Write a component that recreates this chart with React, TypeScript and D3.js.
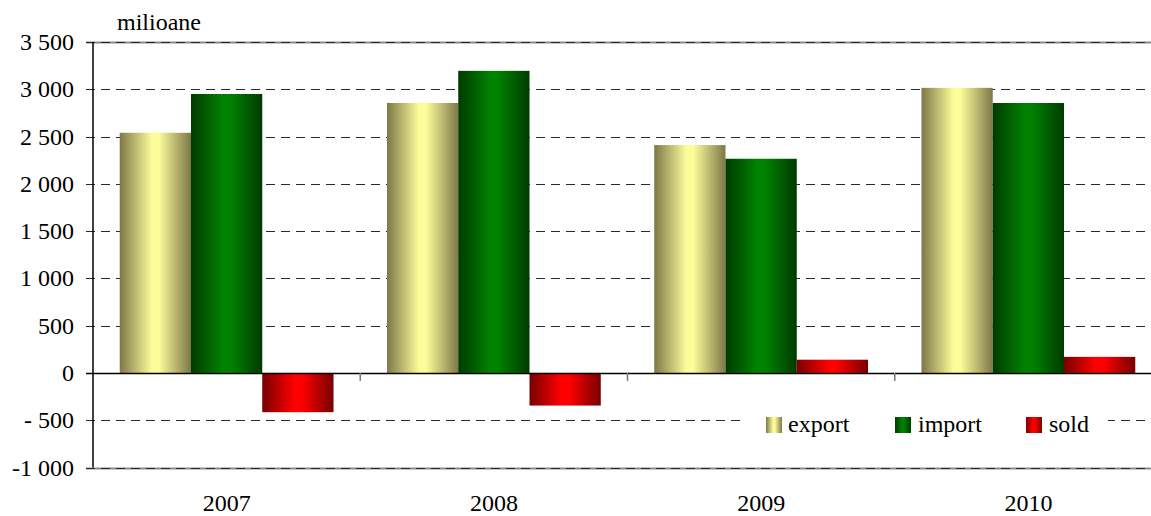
import React from "react";
import * as d3 from "d3";

const categories = ["2007", "2008", "2009", "2010"];
const exportValues = [2540, 2855, 2410, 3015];
const importValues = [2950, 3195, 2265, 2855];
const soldValues = [-415, -345, 140, 170];
const yTicks = [-1000, -500, 0, 500, 1000, 1500, 2000, 2500, 3000, 3500];
const yTickLabels = ["-1 000", "- 500", "0", "500", "1 000", "1 500", "2 000", "2 500", "3 000", "3 500"];
const seriesNames = ["export", "import", "sold"];

const W = 1151;
const H = 516;
const left = 93;
const right = 1162;
const top = 42;
const bottom = 467.5;
const FS = 24;
const FAM = "Liberation Serif";

const gradients = [
  { id: "gExport", edge: "#7d7848", mid: "#fcfc9a" },
  { id: "gImport", edge: "#003b00", mid: "#008200" },
  { id: "gSold", edge: "#780000", mid: "#ff0000" },
];

export default function App() {
  const x0b = d3.scaleBand<string>().domain(categories).range([left, right]).padding(0);
  const step = x0b.step();
  const bandInner = step * 0.8;
  const x1 = d3.scaleBand<string>().domain(seriesNames).range([0, bandInner]).padding(0);
  const y = d3.scaleLinear().domain([-1000, 3500]).range([bottom, top]);
  const series = [exportValues, importValues, soldValues];
  const fontStyle = { fontFamily: FAM };

  return (
    <svg width={W} height={H} style={{ position: "absolute", left: 0, top: 0, background: "#fff" }}>
      <defs>
        {gradients.map((g) => (
          <linearGradient key={g.id} id={g.id} x1="0" x2="1" y1="0" y2="0">
            <stop offset="0" stopColor={g.edge} />
            <stop offset="0.45" stopColor={g.mid} />
            <stop offset="0.55" stopColor={g.mid} />
            <stop offset="1" stopColor={g.edge} />
          </linearGradient>
        ))}
      </defs>
      {yTicks.map((t) => {
        const yy = Math.round(y(t)) + 0.5;
        const edge = t === 3500 || t === -1000;
        if (t === 0) return null;
        return (
          <g key={t}>
            {edge && <line x1={86} x2={W} y1={yy} y2={yy} stroke="#8a8a8a" strokeWidth={2} />}
            <line x1={86} x2={W} y1={yy} y2={yy} stroke="#2a2a2a" strokeWidth={1} strokeDasharray="9,6" />
          </g>
        );
      })}
      {yTicks.map((t, i) => (
        <text key={"l" + t} x={74} y={y(t) + 8} textAnchor="end" fontSize={FS} style={fontStyle} fill="#000">
          {yTickLabels[i]}
        </text>
      ))}
      <text x={117} y={30} fontSize={FS} style={fontStyle} fill="#000">milioane</text>
      {categories.map((c, ci) => (
        <g key={c} transform={`translate(${(x0b(c) as number) + step * 0.1},0)`}>
          {seriesNames.map((s, si) => {
            const v = series[si][ci];
            const y0 = y(0);
            const yv = y(v);
            return (
              <rect
                key={s}
                x={x1(s) as number}
                y={Math.min(y0, yv)}
                width={x1.bandwidth()}
                height={Math.abs(yv - y0)}
                fill={`url(#${gradients[si].id})`}
              />
            );
          })}
        </g>
      ))}
      <line x1={left} x2={left} y1={top} y2={bottom} stroke="#000" strokeWidth={1.5} />
      <line x1={86} x2={W} y1={Math.round(y(0)) + 0.5} y2={Math.round(y(0)) + 0.5} stroke="#000" strokeWidth={1.5} />
      {categories.slice(1).map((c) => (
        <line key={"t" + c} x1={x0b(c) as number} x2={x0b(c) as number} y1={y(0)} y2={y(0) + 8} stroke="#777" strokeWidth={1.5} />
      ))}
      {categories.map((c) => (
        <text key={"c" + c} x={(x0b(c) as number) + step / 2} y={511} textAnchor="middle" fontSize={FS} style={fontStyle} fill="#000">
          {c}
        </text>
      ))}
      <rect x={745} y={404} width={363} height={42} fill="#fff" />
      {[
        { sx: 766, tx: 788 },
        { sx: 895, tx: 918 },
        { sx: 1026, tx: 1049 },
      ].map((p, i) => (
        <g key={"lg" + i}>
          <rect x={p.sx} y={417} width={16} height={16} fill={`url(#${gradients[i].id})`} />
          <text x={p.tx} y={432} fontSize={FS} style={fontStyle} fill="#000">{seriesNames[i]}</text>
        </g>
      ))}
    </svg>
  );
}
